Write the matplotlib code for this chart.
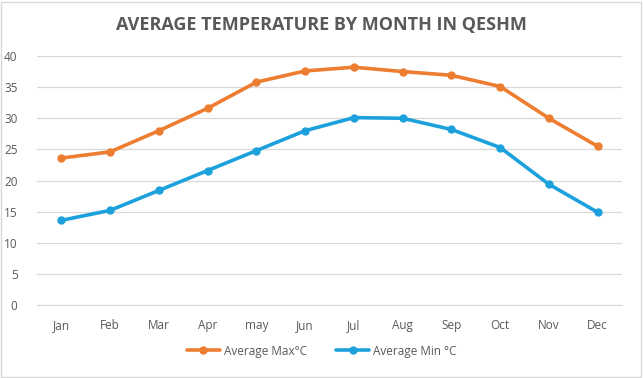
import matplotlib.pyplot as plt
from matplotlib.patches import Rectangle

months = ['Jan', 'Feb', 'Mar', 'Apr', 'may', 'Jun', 'Jul', 'Aug', 'Sep', 'Oct', 'Nov', 'Dec']
avg_max = [23.6, 24.6, 28.0, 31.6, 35.8, 37.6, 38.2, 37.5, 36.9, 35.1, 30.0, 25.5]
avg_min = [13.6, 15.2, 18.4, 21.6, 24.8, 28.0, 30.1, 30.0, 28.2, 25.3, 19.4, 14.9]
y_ticks = [0, 5, 10, 15, 20, 25, 30, 35, 40]

plt.rcParams['font.family'] = ['Open Sans', 'DejaVu Sans']
text_color = '#595959'

fig = plt.figure(figsize=(6.43, 3.78), dpi=100)
ax = fig.add_axes([37 / 643, 1 - 305 / 378, (622 - 37) / 643, (305 - 56) / 378])

x = range(len(months))
ax.plot(x, avg_max, color='#ED7D31', linewidth=2.6, marker='o', markersize=5,
        label='Average Max°C', solid_capstyle='round')
ax.plot(x, avg_min, color='#1DA1DC', linewidth=2.6, marker='o', markersize=5,
        label='Average Min °C', solid_capstyle='round')

ax.set_xlim(-0.5, len(months) - 0.5)
ax.set_ylim(0, 40)
ax.set_yticks(y_ticks)
ax.set_xticks(list(x))
ax.set_xticklabels(months)
ax.grid(True, axis='y', color='#D9D9D9', linewidth=0.9)
ax.set_axisbelow(True)
for side in ['top', 'right', 'left']:
    ax.spines[side].set_visible(False)
ax.spines['bottom'].set_color('#D9D9D9')
ax.tick_params(axis='both', length=0, colors=text_color, labelsize=8.5)
ax.tick_params(axis='x', pad=10)
ax.tick_params(axis='y', pad=14)

fig.text(0.5, 1 - 25 / 378, 'AVERAGE TEMPERATURE BY MONTH IN QESHM', ha='center', va='center',
         fontsize=13, fontweight='bold', color=text_color)

leg = fig.legend(loc='center', bbox_to_anchor=(0.5, 1 - 351 / 378), ncol=2, frameon=False,
                 fontsize=8.5, handlelength=2.8, columnspacing=2.5, handletextpad=0.3)
for t in leg.get_texts():
    t.set_color(text_color)

fig.patches.append(Rectangle((0.002, 0.003), 0.995, 0.993, transform=fig.transFigure,
                             fill=False, edgecolor='#D9D9D9', linewidth=1))

fig.savefig('out.png', dpi=100, facecolor='white')
